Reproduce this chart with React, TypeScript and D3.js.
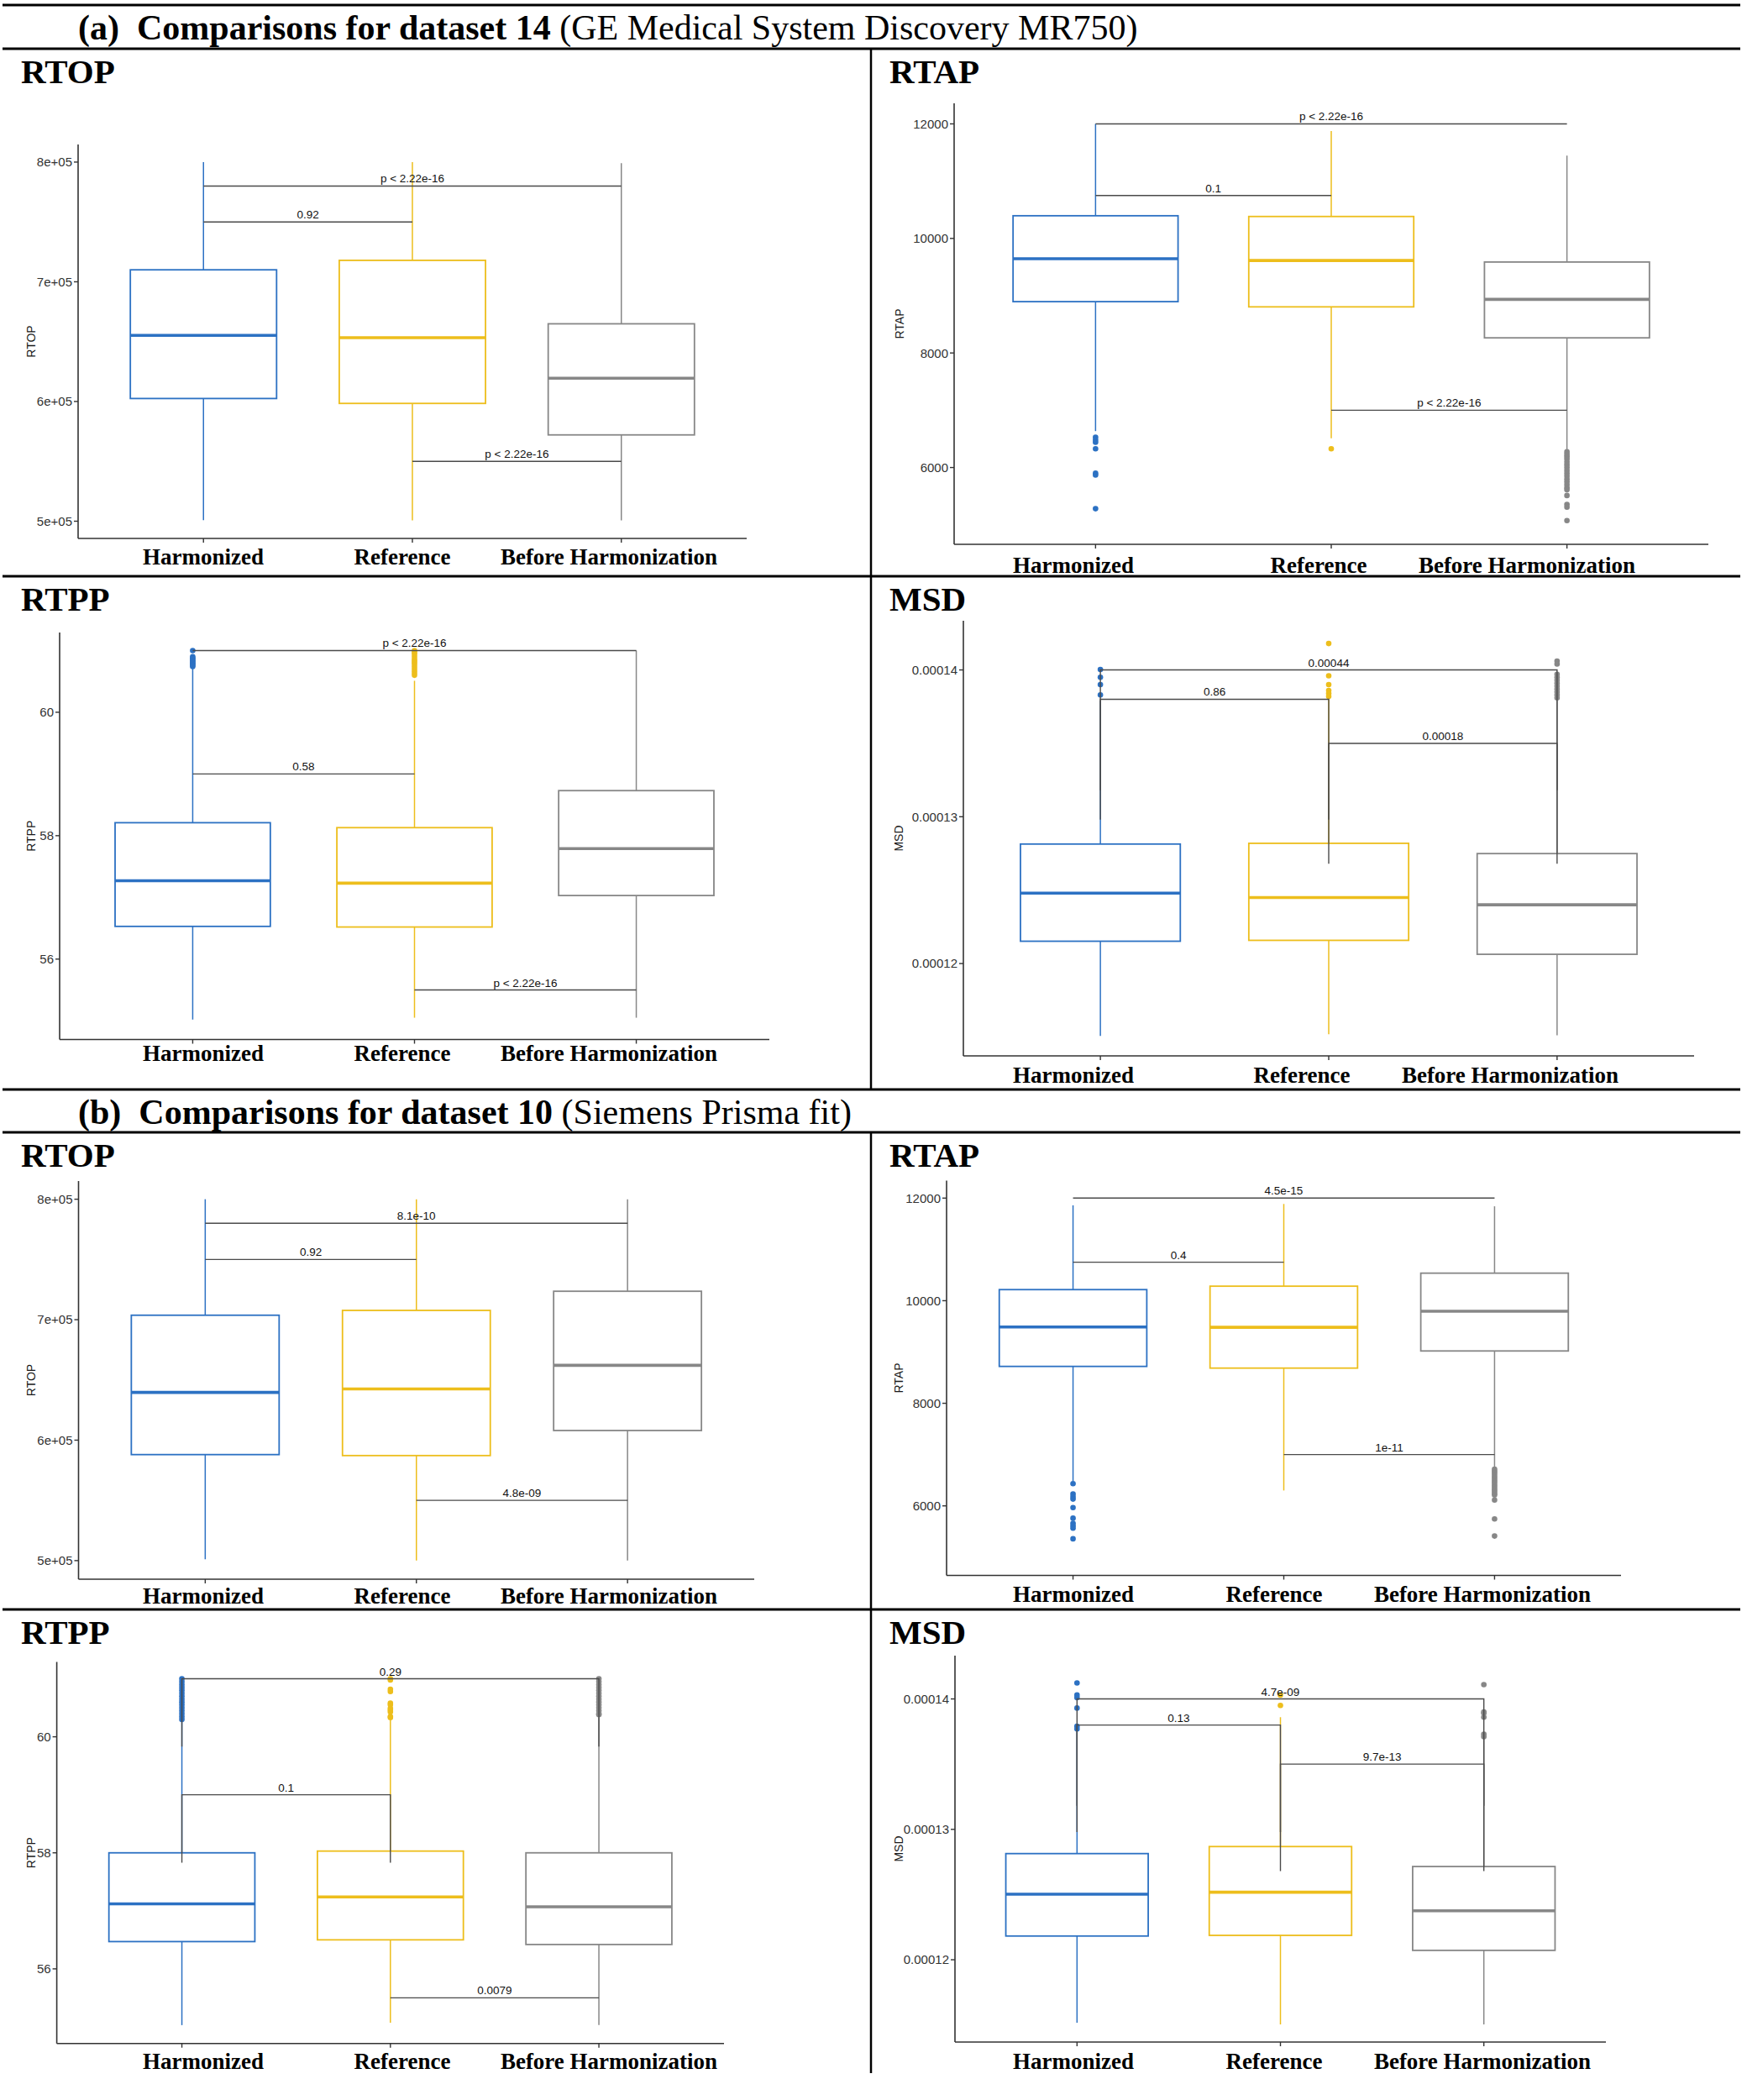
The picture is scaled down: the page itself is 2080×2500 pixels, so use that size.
import React from "react";
import * as d3 from "d3";

const categories = ["Harmonized", "Reference", "Before Harmonization"];
const groupColors = ["#2C71C3", "#EDBE1C", "#878787"];

const rtopTicks = [500000, 600000, 700000, 800000];
const rtopTickLabels = ["5e+05", "6e+05", "7e+05", "8e+05"];
const rtapTicks = [6000, 8000, 10000, 12000];
const rtapTickLabels = ["6000", "8000", "10000", "12000"];
const rtppTicks = [56, 58, 60];
const rtppTickLabels = ["56", "58", "60"];
const msdTicks = [0.00012, 0.00013, 0.00014];
const msdTickLabels = ["0.00012", "0.00013", "0.00014"];

// boxes: [lower whisker, Q1, median, Q3, upper whisker] for each category
// (a) dataset 14
const aRtopBoxes = [
  [500900, 602500, 655200, 710000, 800000],
  [500600, 598400, 653300, 717900, 800000],
  [500600, 572100, 619400, 664900, 799000],
];
const aRtopOutliers = [[], [], []];
const aRtopBrackets = [
  [0, 2, 780000, "p < 2.22e-16"],
  [0, 1, 750000, "0.92"],
  [1, 2, 550000, "p < 2.22e-16"],
];

const aRtapBoxes = [
  [6636, 8896, 9646, 10396, 12000],
  [6510, 8805, 9614, 10383, 11876],
  [6300, 8264, 8936, 9588, 11446],
];
const aRtapOutliers = [
  [6528, 6480, 6440, 6328, 5903, 5868, 5281],
  [6328],
  [6274, 6230, 6190, 6150, 6100, 6050, 6000, 5950, 5900, 5850, 5800, 5750, 5700, 5650, 5614, 5511, 5355, 5307, 5073],
];
const aRtapBrackets = [
  [0, 2, 12000, "p < 2.22e-16"],
  [0, 1, 10750, "0.1"],
  [1, 2, 7000, "p < 2.22e-16"],
];

const aRtppBoxes = [
  [55.02, 56.53, 57.27, 58.21, 60.72],
  [55.05, 56.52, 57.23, 58.13, 60.51],
  [55.05, 57.03, 57.79, 58.73, 61.0],
];
const aRtppOutliers = [
  [61.0, 60.9, 60.88, 60.86, 60.84, 60.82, 60.8, 60.78, 60.76, 60.74],
  [61.0, 60.97, 60.94, 60.9, 60.86, 60.83, 60.8, 60.76, 60.72, 60.68, 60.64, 60.6],
  [],
];
const aRtppBrackets = [
  [0, 2, 61.0, "p < 2.22e-16"],
  [0, 1, 59.0, "0.58"],
  [1, 2, 55.5, "p < 2.22e-16"],
];

const aMsdBoxes = [
  [0.00011507, 0.00012152, 0.0001248, 0.00012814, 0.0001379],
  [0.00011518, 0.00012158, 0.0001245, 0.00012819, 0.000138],
  [0.00011511, 0.00012063, 0.000124, 0.00012749, 0.000138],
];
const aMsdOutliers = [
  [0.00014003, 0.0001395, 0.000139, 0.0001383],
  [0.0001418, 0.0001396, 0.000139, 0.0001386, 0.0001384, 0.0001382],
  [0.0001406, 0.0001404, 0.0001397, 0.0001395, 0.0001393, 0.0001391, 0.0001389, 0.0001387, 0.0001385, 0.0001383, 0.0001381],
];
const aMsdBrackets = [
  [0, 2, 0.00014, "0.00044"],
  [0, 1, 0.000138, "0.86"],
  [1, 2, 0.000135, "0.00018"],
];

// (b) dataset 10
const bRtopBoxes = [
  [501100, 588000, 639600, 703700, 800000],
  [500000, 587200, 642500, 707700, 800000],
  [500000, 608000, 662100, 723600, 800000],
];
const bRtopOutliers = [[], [], []];
const bRtopBrackets = [
  [0, 2, 780000, "8.1e-10"],
  [0, 1, 750000, "0.92"],
  [1, 2, 550000, "4.8e-09"],
];

const bRtapBoxes = [
  [6481, 8719, 9488, 10216, 11860],
  [6300, 8686, 9481, 10283, 11886],
  [6748, 9020, 9795, 10537, 11840],
];
const bRtapOutliers = [
  [6434, 6233, 6180, 6133, 5966, 5759, 5659, 5610, 5565, 5358],
  [],
  [6714, 6680, 6640, 6600, 6560, 6520, 6480, 6440, 6400, 6360, 6320, 6280, 6240, 6213, 6113, 5746, 5412],
];
const bRtapBrackets = [
  [0, 2, 12000, "4.5e-15"],
  [0, 1, 10750, "0.4"],
  [1, 2, 7000, "1e-11"],
];

const bRtppBoxes = [
  [55.03, 56.47, 57.12, 58.0, 60.27],
  [55.07, 56.5, 57.24, 58.03, 60.3],
  [55.03, 56.42, 57.07, 58.0, 60.33],
];
const bRtppOutliers = [
  [60.3, 60.35, 60.4, 60.45, 60.5, 60.55, 60.6, 60.65, 60.7, 60.75, 60.8, 60.85, 60.9, 60.95, 61.0],
  [61.0, 60.98, 60.82, 60.78, 60.58, 60.55, 60.49, 60.46, 60.43, 60.35, 60.33],
  [60.38, 60.4, 60.45, 60.5, 60.55, 60.6, 60.65, 60.7, 60.75, 60.8, 60.85, 60.9, 60.95, 61.0],
];
const bRtppBrackets = [
  [0, 2, 61.0, "0.29"],
  [0, 1, 59.0, "0.1"],
  [1, 2, 55.5, "0.0079"],
];

const bMsdBoxes = [
  [0.00011517, 0.00012182, 0.00012503, 0.00012814, 0.0001375],
  [0.00011504, 0.00012187, 0.00012518, 0.00012868, 0.0001386],
  [0.00011504, 0.00012072, 0.00012375, 0.00012715, 0.000137],
];
const bMsdOutliers = [
  [0.00014123, 0.0001403, 0.0001401, 0.0001393, 0.0001379, 0.0001377],
  [0.0001403, 0.0001395],
  [0.0001411, 0.000139, 0.0001389, 0.0001386, 0.0001373, 0.0001371],
];
const bMsdBrackets = [
  [0, 2, 0.00014, "4.7e-09"],
  [0, 1, 0.000138, "0.13"],
  [1, 2, 0.000135, "9.7e-13"],
];

const SERIF = "'Liberation Serif', 'Times New Roman', Times, serif";
const SANS = "'Liberation Sans', Arial, Helvetica, sans-serif";

const leftLabels = [242, 479, 725];

const panels = [
  {
    title: "RTOP", boxes: aRtopBoxes, outliers: aRtopOutliers, brackets: aRtopBrackets,
    ticks: rtopTicks, tickLabels: rtopTickLabels,
    L: { x0: 93, x1: 889, yTop: 172, yBottom: 641, yLim: [485600, 814700], titleX: 25, titleY: 99, axisTitleX: 37, labelXs: leftLabels, labelY: 672, tip: 0 },
  },
  {
    title: "RTAP", boxes: aRtapBoxes, outliers: aRtapOutliers, brackets: aRtapBrackets,
    ticks: rtapTicks, tickLabels: rtapTickLabels,
    L: { x0: 1136, x1: 2034, yTop: 123, yBottom: 648, yLim: [4659, 12359], titleX: 1059, titleY: 99, axisTitleX: 1071, labelXs: [1278, 1570, 1818], labelY: 682, tip: 0 },
  },
  {
    title: "RTPP", boxes: aRtppBoxes, outliers: aRtppOutliers, brackets: aRtppBrackets,
    ticks: rtppTicks, tickLabels: rtppTickLabels,
    L: { x0: 71, x1: 916, yTop: 753, yBottom: 1237.5, yLim: [54.697, 61.292], titleX: 25, titleY: 727, axisTitleX: 37, labelXs: leftLabels, labelY: 1263, tip: 0 },
  },
  {
    title: "MSD", boxes: aMsdBoxes, outliers: aMsdOutliers, brackets: aMsdBrackets,
    ticks: msdTicks, tickLabels: msdTickLabels,
    L: { x0: 1147, x1: 2017, yTop: 739, yBottom: 1257, yLim: [0.00011371, 0.00014335], titleX: 1059, titleY: 727, axisTitleX: 1070, labelXs: [1278, 1550, 1798], labelY: 1289, tip: 0.0000082 },
  },
  {
    title: "RTOP", boxes: bRtopBoxes, outliers: bRtopOutliers, brackets: bRtopBrackets,
    ticks: rtopTicks, tickLabels: rtopTickLabels,
    L: { x0: 93.5, x1: 898, yTop: 1406, yBottom: 1880, yLim: [484568, 815083], titleX: 25, titleY: 1389, axisTitleX: 37, labelXs: leftLabels, labelY: 1909, tip: 0 },
  },
  {
    title: "RTAP", boxes: bRtapBoxes, outliers: bRtapOutliers, brackets: bRtapBrackets,
    ticks: rtapTicks, tickLabels: rtapTickLabels,
    L: { x0: 1127, x1: 1930, yTop: 1405.5, yBottom: 1875.5, yLim: [4644, 12341], titleX: 1059, titleY: 1389, axisTitleX: 1070, labelXs: [1278, 1517, 1765], labelY: 1907, tip: 0 },
  },
  {
    title: "RTPP", boxes: bRtppBoxes, outliers: bRtppOutliers, brackets: bRtppBrackets,
    ticks: rtppTicks, tickLabels: rtppTickLabels,
    L: { x0: 67.6, x1: 862, yTop: 1978.5, yBottom: 2432.7, yLim: [54.714, 61.29], titleX: 25, titleY: 1957, axisTitleX: 37, labelXs: leftLabels, labelY: 2463, tip: 1.17 },
  },
  {
    title: "MSD", boxes: bMsdBoxes, outliers: bMsdOutliers, brackets: bMsdBrackets,
    ticks: msdTicks, tickLabels: msdTickLabels,
    L: { x0: 1137, x1: 1912, yTop: 1971, yBottom: 2431, yLim: [0.00011369, 0.00014332], titleX: 1059, titleY: 1957, axisTitleX: 1070, labelXs: [1278, 1517, 1765], labelY: 2463, tip: 0.0000082 },
  },
];

function Panel({ cfg }: { cfg: any }) {
  const L = cfg.L;
  const x = d3.scalePoint<string>().domain(categories).range([L.x0, L.x1]).padding(0.6);
  const y = d3.scaleLinear().domain(L.yLim).range([L.yBottom, L.yTop]);
  const bw = x.step() * 0.7;
  const medMax = d3.max(cfg.boxes as number[][], (b) => b[2]) as number;
  const axisColor = "#333333";
  return (
    <g>
      <text x={L.titleX} y={L.titleY} fontFamily={SERIF} fontWeight="bold" fontSize={41} fill="#000">
        {cfg.title}
      </text>
      {/* boxes */}
      {cfg.boxes.map((b: number[], i: number) => {
        const cx = x(categories[i]) as number;
        const c = groupColors[i];
        return (
          <g key={i}>
            <line x1={cx} x2={cx} y1={y(b[3])} y2={y(b[4])} stroke={c} strokeWidth={1.5} />
            <line x1={cx} x2={cx} y1={y(b[1])} y2={y(b[0])} stroke={c} strokeWidth={1.5} />
            <rect x={cx - bw / 2} y={y(b[3])} width={bw} height={y(b[1]) - y(b[3])} fill="#fff" stroke={c} strokeWidth={1.8} />
            <line x1={cx - bw / 2} x2={cx + bw / 2} y1={y(b[2])} y2={y(b[2])} stroke={c} strokeWidth={3.6} />
            {cfg.outliers[i].map((v: number, k: number) => (
              <circle key={k} cx={cx} cy={y(v)} r={3.3} fill={c} />
            ))}
          </g>
        );
      })}
      {/* comparison brackets */}
      {cfg.brackets.map((br: any[], k: number) => {
        const xa = x(categories[br[0]]) as number;
        const xb = x(categories[br[1]]) as number;
        const yy = y(br[2]);
        const hasTip = L.tip > 0 && br[2] > medMax;
        const yt = hasTip ? y(br[2] - L.tip) : yy;
        const path = `M${xa},${yt}L${xa},${yy}L${xb},${yy}L${xb},${yt}`;
        return (
          <g key={"b" + k}>
            <path d={path} fill="none" stroke="#4a4a4a" strokeWidth={1.4} />
            <text x={(xa + xb) / 2} y={yy - 4} textAnchor="middle" fontFamily={SANS} fontSize={13.5} fill="#111">
              {br[3]}
            </text>
          </g>
        );
      })}
      {/* y axis */}
      <line x1={L.x0} x2={L.x0} y1={L.yTop} y2={L.yBottom} stroke={axisColor} strokeWidth={1.6} />
      {cfg.ticks.map((t: number, k: number) => (
        <g key={"t" + k}>
          <line x1={L.x0 - 5} x2={L.x0} y1={y(t)} y2={y(t)} stroke={axisColor} strokeWidth={1.4} />
          <text x={L.x0 - 7} y={y(t)} dy="0.36em" textAnchor="end" fontFamily={SANS} fontSize={15} fill="#333">
            {cfg.tickLabels[k]}
          </text>
        </g>
      ))}
      <text
        transform={`translate(${L.axisTitleX},${(L.yTop + L.yBottom) / 2}) rotate(-90)`}
        textAnchor="middle"
        dy="0.36em"
        fontFamily={SANS}
        fontSize={14}
        fill="#1a1a1a"
      >
        {cfg.title}
      </text>
      {/* x axis */}
      <line x1={L.x0} x2={L.x1} y1={L.yBottom} y2={L.yBottom} stroke={axisColor} strokeWidth={1.6} />
      {categories.map((c, i) => (
        <line key={"xt" + i} x1={x(c)} x2={x(c)} y1={L.yBottom} y2={L.yBottom + 5} stroke={axisColor} strokeWidth={1.4} />
      ))}
      {categories.map((c, i) => (
        <text key={"xl" + i} x={L.labelXs[i]} y={L.labelY} textAnchor="middle" fontFamily={SERIF} fontWeight="bold" fontSize={27} fill="#000">
          {c}
        </text>
      ))}
    </g>
  );
}

export default function App() {
  const W = 2080;
  const H = 2500;
  const lineEnd = 2072;
  return (
    <svg width={W} height={H} viewBox={`0 0 ${W} ${H}`} style={{ position: "absolute", left: 0, top: 0, background: "#fff" }}>
      <rect x={0} y={0} width={W} height={H} fill="#fff" />
      {/* frame lines */}
      <g stroke="#000" strokeWidth={3}>
        <line x1={3} x2={lineEnd} y1={6} y2={6} />
        <line x1={3} x2={lineEnd} y1={58} y2={58} />
        <line x1={3} x2={lineEnd} y1={686} y2={686} />
        <line x1={3} x2={lineEnd} y1={1297} y2={1297} />
        <line x1={3} x2={lineEnd} y1={1348} y2={1348} />
        <line x1={3} x2={lineEnd} y1={1916} y2={1916} />
        <line x1={1037} x2={1037} y1={58} y2={1297} strokeWidth={2.5} />
        <line x1={1037} x2={1037} y1={1348} y2={2468} strokeWidth={2.5} />
      </g>
      <text x={93} y={47} fontFamily={SERIF} fontSize={42} fill="#000">
        <tspan fontWeight="bold">(a)</tspan>
        <tspan fontWeight="bold" dx={21}>Comparisons for dataset 14</tspan>
        <tspan> (GE Medical System Discovery MR750)</tspan>
      </text>
      <text x={93} y={1338} fontFamily={SERIF} fontSize={42} fill="#000">
        <tspan fontWeight="bold">(b)</tspan>
        <tspan fontWeight="bold" dx={21}>Comparisons for dataset 10</tspan>
        <tspan> (Siemens Prisma fit)</tspan>
      </text>
      {panels.map((p, i) => (
        <Panel key={i} cfg={p} />
      ))}
    </svg>
  );
}
